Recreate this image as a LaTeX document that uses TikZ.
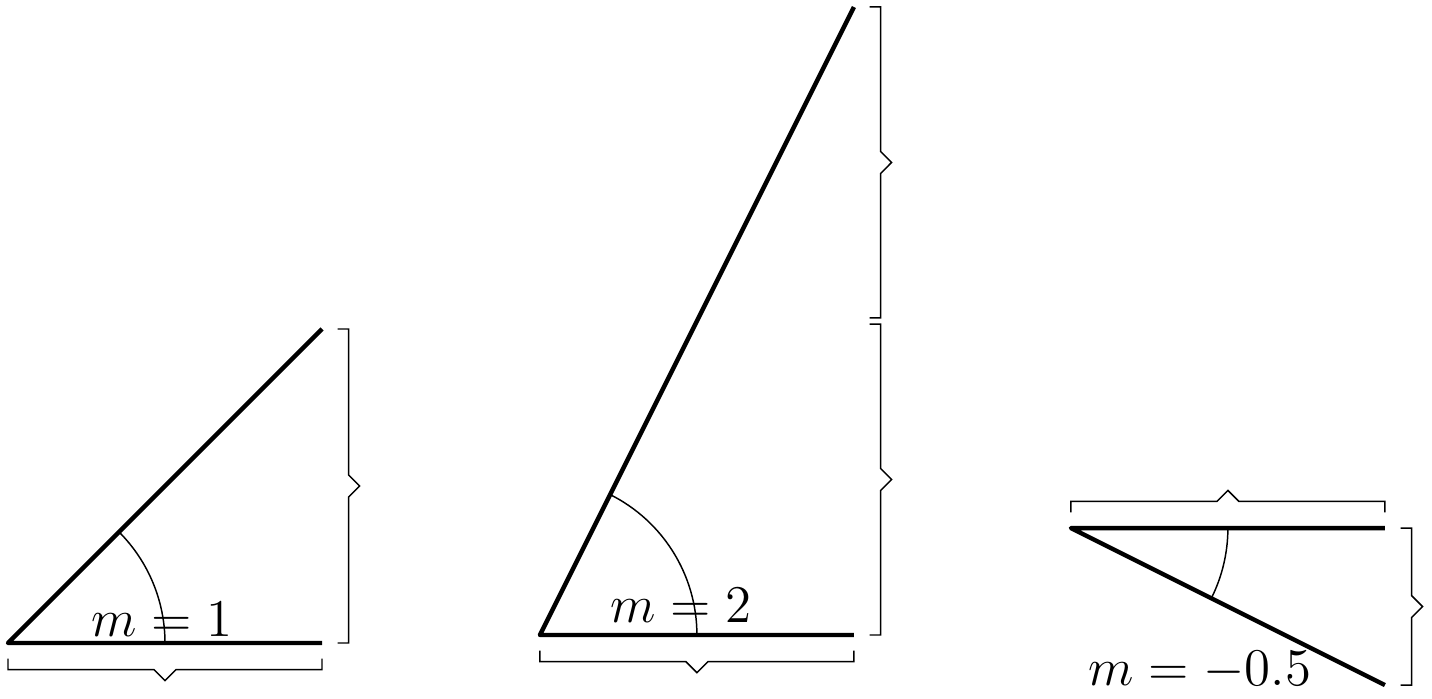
\documentclass[tikz,border=0pt]{standalone}
\begin{document}
\begin{tikzpicture}[
    x=3cm, y=3cm,
    seg/.style={line width=1.2pt, line join=round},
    anglearc/.style={thin},
    slopelbl/.style={font=\Large, anchor=base},
    pics/tipbrace/.style={code={
        \draw[thin] (0,-0.05) -- (0,-0.085) -- (#1/2-0.035,-0.085)
            -- (#1/2,-0.12) -- (#1/2+0.035,-0.085) -- (#1,-0.085) -- (#1,-0.05);
    }}
]
\useasboundingbox (-0.0255,-0.1752) rectangle (4.535,2.0478);

% --- Panel 1: slope 1 ---
\coordinate (o1) at (0,0);
\coordinate (h1) at (1,0);
\coordinate (t1) at (1,1);
\draw[seg] (h1) -- (o1) -- (t1);
\draw[anglearc] (0.5,0) arc[start angle=0, end angle=45, radius=0.5];
\pic at (o1) {tipbrace=1};
\pic[rotate=90] at (h1) {tipbrace=1};
\node[slopelbl] (lbl1) at (0.49,0.02) {$m=1$};

% --- Panel 2: slope 2 ---
\begin{scope}[shift={(1.694,0.0255)}]
\coordinate (o2) at (0,0);
\coordinate (h2) at (1,0);
\coordinate (t2) at (1,2);
\draw[seg] (h2) -- (o2) -- (t2);
\draw[anglearc] (0.5,0) arc[start angle=0, end angle=63.43, radius=0.5];
\pic at (o2) {tipbrace=1};
\pic[rotate=90] at (h2) {tipbrace=0.99};
\pic[rotate=90] at (1,1.01) {tipbrace=0.99};
\node[slopelbl] (lbl2) at (0.45,0.04) {$m=2$};
\end{scope}

% --- Panel 3: slope -0.5 ---
\begin{scope}[shift={(3.385,0.366)}]
\coordinate (o3) at (0,0);
\coordinate (h3) at (1,0);
\coordinate (t3) at (1,-0.5);
\draw[seg] (h3) -- (o3) -- (t3);
\draw[anglearc] (0.5,0) arc[start angle=0, end angle=-26.57, radius=0.5];
\pic[rotate=180] at (h3) {tipbrace=1};
\pic[rotate=90] at (t3) {tipbrace=0.5};
\node[slopelbl] (lbl3) at (0.41,-0.5) {$m=-0.5$};
\end{scope}

\end{tikzpicture}
\end{document}
